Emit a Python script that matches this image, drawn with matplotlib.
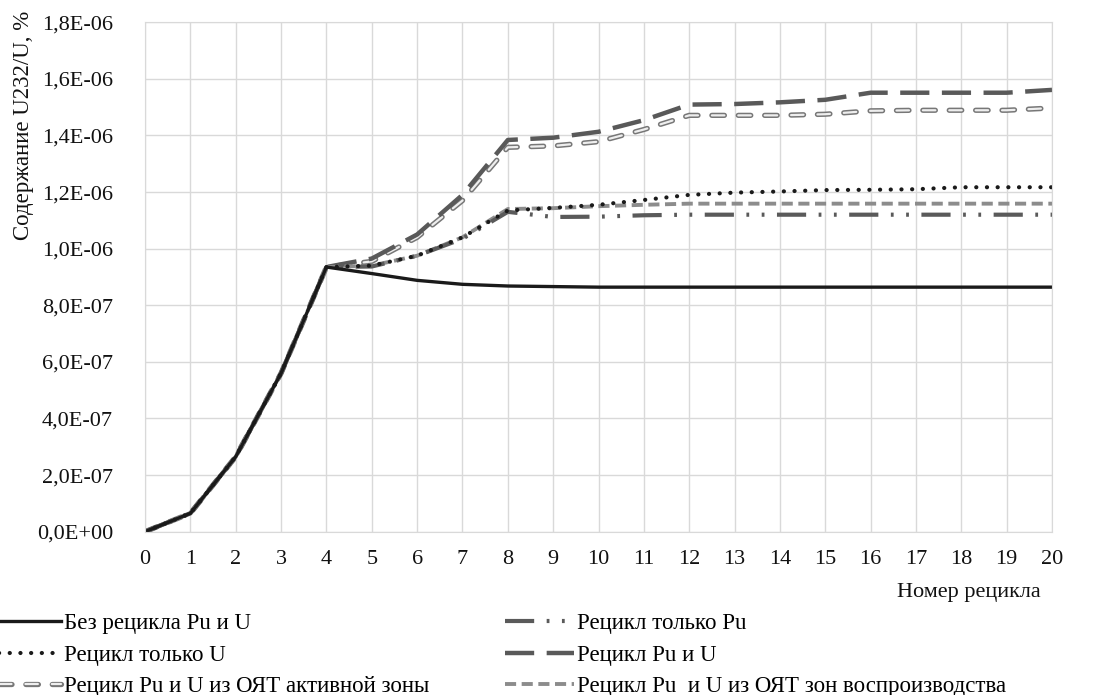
import numpy as np
import matplotlib
matplotlib.use("Agg")
import matplotlib.pyplot as plt
import matplotlib.patheffects as pe
from matplotlib.ticker import FuncFormatter, MultipleLocator

plt.rcParams['font.family'] = ['Liberation Serif', 'DejaVu Serif']
plt.rcParams['lines.scale_dashes'] = False

# Номер рецикла
cycles = list(range(21))

# Содержание U232/U, единицы 1E-06 %
no_recycle = [0, 0.065, 0.265, 0.56, 0.935, 0.912, 0.888, 0.874, 0.868, 0.866, 0.864,
              0.864, 0.864, 0.864, 0.864, 0.864, 0.864, 0.864, 0.864, 0.864, 0.864]
only_pu = [0, 0.065, 0.265, 0.56, 0.935, 0.937, 0.975, 1.035, 1.13, 1.112, 1.113,
           1.118, 1.12, 1.12, 1.12, 1.12, 1.12, 1.12, 1.12, 1.12, 1.12]
only_u = [0, 0.065, 0.265, 0.56, 0.935, 0.94, 0.975, 1.04, 1.135, 1.144, 1.155,
          1.172, 1.19, 1.198, 1.202, 1.207, 1.208, 1.21, 1.217, 1.217, 1.217]
pu_u = [0, 0.065, 0.265, 0.56, 0.935, 0.965, 1.05, 1.19, 1.384, 1.392, 1.413,
        1.454, 1.509, 1.511, 1.517, 1.526, 1.551, 1.551, 1.551, 1.551, 1.561]
pu_u_core = [0, 0.065, 0.265, 0.56, 0.935, 0.955, 1.04, 1.17, 1.358, 1.363, 1.378,
             1.421, 1.471, 1.471, 1.471, 1.475, 1.487, 1.489, 1.489, 1.489, 1.497]
pu_u_blanket = [0, 0.065, 0.265, 0.56, 0.935, 0.94, 0.975, 1.04, 1.14, 1.143, 1.15,
                1.155, 1.159, 1.159, 1.159, 1.159, 1.159, 1.159, 1.159, 1.159, 1.159]

fig = plt.figure(figsize=(10.93, 6.95), dpi=100)
ax = fig.add_axes([0.1327, 0.235, 0.8298, 0.733])

x = np.array(cycles)
k = 1e-6

l_core, = ax.plot(x, np.array(pu_u_core) * k, color='#f0f0f0', lw=1.6,
                  dashes=(9, 10), dash_capstyle='round',
                  label='Рецикл Pu и U из ОЯТ активной зоны',
                  path_effects=[pe.Stroke(linewidth=3.8, foreground='#777777'),
                                pe.Stroke(linewidth=1.6, foreground='#eeeeee')])
l_pu_u, = ax.plot(x, np.array(pu_u) * k, color='#595959', lw=3.2,
                  dashes=(21, 9), label='Рецикл Pu и U')
l_blanket, = ax.plot(x, np.array(pu_u_blanket) * k, color='#8c8c8c', lw=2.8,
                     dashes=(8, 4), label='Рецикл Pu  и U из ОЯТ зон воспроизводства')
l_pu, = ax.plot(x, np.array(only_pu) * k, color='#5a5a5a', lw=3.0,
                dashes=(21, 9, 2, 9, 2, 9), label='Рецикл только Pu')
l_u, = ax.plot(x, np.array(only_u) * k, color='#1a1a1a', lw=3.0,
               dashes=(0.1, 7.6), dash_capstyle='round', label='Рецикл только U')
l_none, = ax.plot(x, np.array(no_recycle) * k, color='#1a1a1a', lw=2.4,
                  label='Без рецикла Pu и U')

ax.set_xlim(0, 20)
ax.set_ylim(0, 1.8e-6)
ax.xaxis.set_major_locator(MultipleLocator(1))
ax.yaxis.set_major_locator(MultipleLocator(0.2e-6))
ax.yaxis.set_major_formatter(FuncFormatter(lambda v, p: f"{v:.1E}".replace('.', ',')))
ax.grid(True, color='#d9d9d9', lw=1)
ax.set_axisbelow(True)
for s in ax.spines.values():
    s.set_color('#d9d9d9')
ax.tick_params(axis='both', length=0, labelsize=16, colors='#111111')
ax.tick_params(axis='y', pad=23)
ax.tick_params(axis='x', pad=13)

fig.text(0.012, 0.985, 'Содержание U232/U, %', rotation=90, va='top', ha='left',
         fontsize=16.5, color='#111111')
fig.text(0.952, 0.148, 'Номер рецикла', ha='right', va='center', fontsize=16,
         color='#111111')

handles = [l_none, l_u, l_core, l_pu, l_pu_u, l_blanket]
fig.legend(handles, [h.get_label() for h in handles], ncol=2, loc='upper left',
           bbox_to_anchor=(-0.018, 0.134), frameon=False, fontsize=16.5,
           handlelength=3.0, handletextpad=0.15, columnspacing=3.3,
           labelspacing=0.45, borderpad=0)

fig.savefig('out.png', dpi=100)
